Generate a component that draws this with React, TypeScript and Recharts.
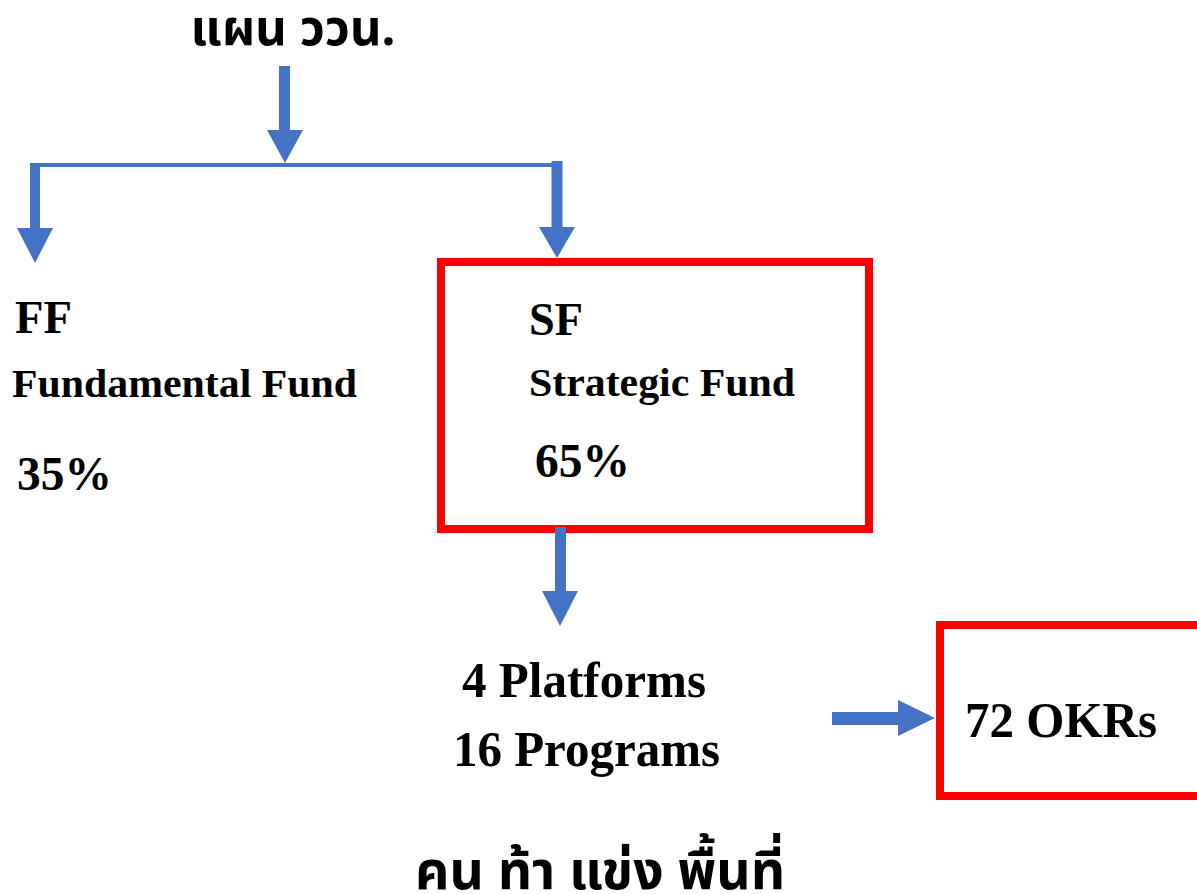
import {
  ComposedChart,
  XAxis,
  YAxis,
  Scatter,
  ReferenceLine,
  ReferenceArea,
} from "recharts";

// diagram content
const planTitle = "แผน ววน.";
const fundCodes = ["FF", "SF"];
const fundNames = ["Fundamental Fund", "Strategic Fund"];
const fundShares = [35, 65];
const platformCount = 4;
const programCount = 16;
const okrCount = 72;
const motto = "คน ท้า แข่ง พื้นที่";

const W = 1197;
const H = 894;
const BLUE = "#4472C4";
const RED = "#FF0000";
const SERIF = "'Liberation Serif', 'Times New Roman', serif";
const THAI = "'Noto Sans Thai', 'Noto Sans', 'DejaVu Sans', sans-serif";

// layout: text anchors (x = left or centre, y = baseline) in page pixels
const labels = [
  { x: 293, y: 45, text: planTitle, size: 50, len: 205, anchor: "middle", font: THAI },
  { x: 15, y: 333, text: fundCodes[0], size: 47, len: 57 },
  { x: 12, y: 397, text: fundNames[0], size: 40, len: 345 },
  { x: 17, y: 490, text: `${fundShares[0]}%`, size: 48, len: 95 },
  { x: 529, y: 335, text: fundCodes[1], size: 47, len: 54 },
  { x: 529, y: 396, text: fundNames[1], size: 40, len: 266 },
  { x: 535, y: 477, text: `${fundShares[1]}%`, size: 48, len: 95 },
  { x: 462, y: 697, text: `${platformCount} Platforms`, size: 50, len: 244 },
  { x: 453, y: 766, text: `${programCount} Programs`, size: 50, len: 267 },
  { x: 965, y: 737, text: `${okrCount} OKRs`, size: 50, len: 192 },
  { x: 600, y: 889, text: motto, size: 54, len: 370, anchor: "middle", font: THAI },
];

const shafts = [
  { x1: 284.5, y1: 66, x2: 284.5, y2: 131, w: 11 },
  { x1: 32, y1: 165, x2: 562, y2: 165, w: 4 },
  { x1: 35, y1: 163, x2: 35, y2: 229, w: 10 },
  { x1: 557, y1: 161, x2: 557, y2: 228, w: 11 },
  { x1: 560.5, y1: 527, x2: 560.5, y2: 592, w: 11 },
  { x1: 832, y1: 718.5, x2: 899, y2: 718.5, w: 13 },
];

const heads = [
  { x: 285, y: 163, dir: "down", len: 33 },
  { x: 35, y: 263, dir: "down", len: 35 },
  { x: 557, y: 258, dir: "down", len: 31 },
  { x: 560, y: 626, dir: "down", len: 35 },
  { x: 935, y: 718, dir: "right", len: 37 },
];

const boxes = [
  { x1: 441, x2: 869, y1: 262, y2: 529 },
  { x1: 940, x2: 1206, y1: 625, y2: 796 },
];

const renderLabel = (props: any) => {
  const { cx, cy, payload } = props;
  return (
    <text
      x={cx}
      y={cy}
      fontFamily={payload.font || SERIF}
      fontWeight="bold"
      fontSize={payload.size}
      fill="#000"
      textAnchor={payload.anchor || "start"}
      textLength={payload.len}
      lengthAdjust="spacingAndGlyphs"
    >
      {payload.text}
    </text>
  );
};

const renderHead = (props: any) => {
  const { cx, cy, payload } = props;
  const half = 18;
  const l = payload.len;
  const pts =
    payload.dir === "right"
      ? `${cx},${cy} ${cx - l},${cy - half} ${cx - l},${cy + half}`
      : `${cx},${cy} ${cx - half},${cy - l} ${cx + half},${cy - l}`;
  return <polygon points={pts} fill={BLUE} />;
};

export default function App() {
  return (
    <div style={{ position: "absolute", left: 0, top: 0, background: "#fff" }}>
      <ComposedChart
        width={W}
        height={H}
        margin={{ top: 0, right: 0, bottom: 0, left: 0 }}
      >
        <XAxis type="number" dataKey="x" domain={[0, W]} allowDataOverflow hide />
        <YAxis type="number" dataKey="y" domain={[0, H]} allowDataOverflow reversed hide />
        {boxes.map((b, i) => (
          <ReferenceArea
            key={`box${i}`}
            x1={b.x1}
            x2={b.x2}
            y1={b.y1}
            y2={b.y2}
            fill="none"
            fillOpacity={0}
            stroke={RED}
            strokeWidth={8}
            strokeOpacity={1}
            ifOverflow="visible"
          />
        ))}
        {shafts.map((s, i) => (
          <ReferenceLine
            key={`shaft${i}`}
            segment={[
              { x: s.x1, y: s.y1 },
              { x: s.x2, y: s.y2 },
            ]}
            stroke={BLUE}
            strokeWidth={s.w}
            ifOverflow="visible"
          />
        ))}
        <Scatter data={heads} shape={renderHead} isAnimationActive={false} />
        <Scatter data={labels} shape={renderLabel} isAnimationActive={false} />
      </ComposedChart>
    </div>
  );
}
